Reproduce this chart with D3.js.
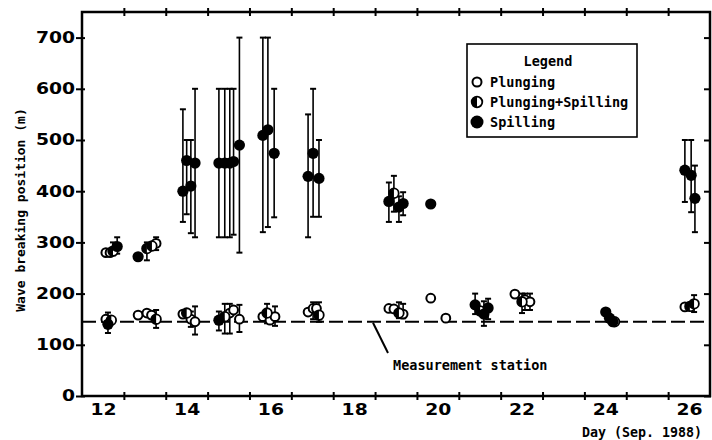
<!DOCTYPE html>
<html>
<head>
<meta charset="utf-8">
<script src="https://cdn.jsdelivr.net/npm/d3@7"></script>
<style>
  body { margin: 0; background: #fff; }
  .mono { font-family: "DejaVu Sans Mono", monospace; font-weight: bold; fill: #000; }
</style>
</head>
<body>
<div id="chart"></div>
<script>
// axis values
const yTicks = [0, 100, 200, 300, 400, 500, 600, 700];
const dayTicks = d3.range(13, 27);
const dayLabels = [12, 14, 16, 18, 20, 22, 24, 26];
const stationLevel = 145;

// points: [day, position (m), low, high]  (low/high = error bar, missing if none)
const plunging = [
    [12.57, 280], [12.67, 280], [13.77, 298, 285, 310],
    [12.57, 150],
    [13.34, 158], [13.55, 162], [13.66, 158],
    [14.41, 160], [14.60, 150, 135, 165], [14.70, 145, 120, 175],
    [15.53, 162, 122, 180], [15.62, 168], [15.76, 150, 125, 178],
    [16.32, 155], [16.49, 148], [16.61, 155, 137, 175],
    [17.40, 164], [17.52, 171, 150, 183], [17.60, 171],
    [19.33, 171], [19.45, 170], [19.67, 160, 152, 180],
    [20.33, 191], [20.69, 152],
    [22.34, 199], [22.58, 188, 168, 200], [22.70, 184, 168, 200],
    [26.40, 174]
];

const mixed = [
    [12.74, 283, 275, 300],
    [13.55, 288, 265, 300], [13.67, 293],
    [19.45, 396, 360, 430],
    [12.70, 148],
    [13.77, 150, 133, 168],
    [14.50, 162],
    [15.41, 155, 122, 180],
    [16.42, 162, 142, 180],
    [17.66, 158, 145, 183],
    [19.57, 162, 152, 183],
    [21.51, 166],
    [22.51, 184, 162, 200],
    [24.72, 145],
    [26.52, 175], [26.62, 180, 164, 197]
];

const spilling = [
    [12.84, 292, 278, 310],
    [13.34, 272],
    [14.41, 400, 340, 560], [14.50, 460, 355, 500], [14.60, 410, 318, 500], [14.70, 455, 310, 600],
    [15.27, 455, 310, 600], [15.41, 455, 310, 600], [15.53, 455, 310, 600], [15.62, 458, 315, 600], [15.76, 490, 280, 700],
    [16.32, 509, 320, 700], [16.44, 520, 330, 700], [16.59, 474, 349, 600],
    [17.40, 429, 310, 550], [17.52, 474, 350, 600], [17.66, 425, 350, 500],
    [19.33, 380, 340, 417], [19.57, 369, 340, 390], [19.67, 376, 353, 398],
    [20.33, 375],
    [12.62, 140, 123, 163],
    [15.27, 148, 128, 165],
    [21.39, 178, 160, 200], [21.60, 160, 137, 185], [21.70, 172, 150, 190],
    [24.51, 164], [24.60, 152], [24.68, 145],
    [26.40, 441, 379, 500], [26.55, 431, 359, 500], [26.64, 386, 320, 450]
];

const legendItems = [
    { label: 'Plunging', kind: 'open' },
    { label: 'Plunging+Spilling', kind: 'half' },
    { label: 'Spilling', kind: 'filled' }
];

const width = 712, height = 440;
const margin = { top: 12, right: 2, bottom: 44, left: 82 };

const svg = d3.select('#chart')
    .append('svg')
    .attr('width', width)
    .attr('height', height);

const x = d3.scaleLinear()
    .domain([12, 27])
    .range([margin.left, width - margin.right]);

const y = d3.scaleLinear()
    .domain([0, 750])
    .range([height - margin.bottom, margin.top]);

// frame
svg.append('rect')
    .attr('x', x(12))
    .attr('y', y(750))
    .attr('width', x(27) - x(12))
    .attr('height', y(0) - y(750))
    .attr('fill', 'none')
    .attr('stroke', '#000')
    .attr('stroke-width', 2.5);

const digitFont = g => g.selectAll('text')
    .style('font-family', '"DejaVu Sans", sans-serif')
    .style('font-weight', 'bold')
    .style('font-size', '15px')
    .attr('fill', '#000');

// left axis (ticks cross the frame)
svg.append('g')
    .attr('transform', `translate(${x(12)},0)`)
    .call(d3.axisLeft(y).tickValues(yTicks).tickSize(6).tickFormat(d3.format('d')))
    .call(g => g.select('.domain').remove())
    .call(g => g.selectAll('.tick line').attr('x1', 3).attr('x2', -6).attr('stroke-width', 2))
    .call(digitFont)
    .call(g => g.selectAll('text')
        .attr('x', -7 / 1.25)
        .attr('transform', 'scale(1.25,1)'));

// right axis ticks
svg.append('g')
    .attr('transform', `translate(${x(27)},0)`)
    .call(d3.axisRight(y).tickValues(yTicks).tickSize(0).tickFormat(''))
    .call(g => g.select('.domain').remove())
    .call(g => g.selectAll('.tick line').attr('x1', -6).attr('x2', 1).attr('stroke-width', 2));

// bottom axis ticks (day boundaries)
svg.append('g')
    .attr('transform', `translate(0,${y(0)})`)
    .call(d3.axisBottom(x).tickValues(dayTicks).tickSize(0).tickFormat(''))
    .call(g => g.select('.domain').remove())
    .call(g => g.selectAll('.tick line').attr('y1', -4).attr('y2', 4).attr('stroke-width', 2));

// bottom labels, centred on each day
svg.append('g')
    .attr('transform', `translate(0,${y(0)})`)
    .call(d3.axisBottom(x).tickValues(dayLabels.map(d => d + 0.5)).tickSize(0).tickFormat(d => Math.floor(d)))
    .call(g => g.select('.domain').remove())
    .call(digitFont)
    .call(g => g.selectAll('text')
        .attr('y', 19)
        .attr('dy', 0)
        .attr('transform', 'scale(1.25,1)'));

// top axis ticks
svg.append('g')
    .attr('transform', `translate(0,${y(750)})`)
    .call(d3.axisTop(x).tickValues(dayTicks).tickSize(0).tickFormat(''))
    .call(g => g.select('.domain').remove())
    .call(g => g.selectAll('.tick line').attr('y1', -4).attr('y2', 4).attr('stroke-width', 2));

// measurement station line
svg.append('line')
    .attr('x1', x(12))
    .attr('x2', x(27))
    .attr('y1', y(stationLevel))
    .attr('y2', y(stationLevel))
    .attr('stroke', '#000')
    .attr('stroke-width', 2)
    .attr('stroke-dasharray', '14,5');

svg.append('line')
    .attr('x1', 373)
    .attr('y1', y(stationLevel) + 1)
    .attr('x2', 388)
    .attr('y2', 353)
    .attr('stroke', '#000')
    .attr('stroke-width', 2);

svg.append('text')
    .attr('class', 'mono')
    .attr('x', 393)
    .attr('y', 370)
    .style('font-size', '13.5px')
    .text('Measurement station');

// axis titles
svg.append('text')
    .attr('class', 'mono')
    .attr('transform', 'translate(25,210) rotate(-90)')
    .attr('text-anchor', 'middle')
    .style('font-size', '13px')
    .text('Wave breaking position (m)');

svg.append('text')
    .attr('class', 'mono')
    .attr('x', 702)
    .attr('y', 437)
    .attr('text-anchor', 'end')
    .style('font-size', '13.3px')
    .text('Day (Sep. 1988)');

// error bars
const allPts = [...plunging, ...mixed, ...spilling].filter(d => d[2] != null);
const bars = svg.append('g').attr('stroke', '#000').attr('stroke-width', 1.6);

bars.selectAll('.err')
    .data(allPts)
    .join('line')
    .attr('class', 'err')
    .attr('x1', d => x(d[0]))
    .attr('x2', d => x(d[0]))
    .attr('y1', d => y(d[2]))
    .attr('y2', d => y(d[3]));

bars.selectAll('.cap-hi')
    .data(allPts)
    .join('line')
    .attr('class', 'cap-hi')
    .attr('x1', d => x(d[0]) - 3)
    .attr('x2', d => x(d[0]) + 3)
    .attr('y1', d => y(d[3]))
    .attr('y2', d => y(d[3]))
    .attr('stroke-width', 2);

bars.selectAll('.cap-lo')
    .data(allPts)
    .join('line')
    .attr('class', 'cap-lo')
    .attr('x1', d => x(d[0]) - 3)
    .attr('x2', d => x(d[0]) + 3)
    .attr('y1', d => y(d[2]))
    .attr('y2', d => y(d[2]))
    .attr('stroke-width', 2);

// markers
const drawMarker = (sel, kind, r) => {
    if (kind === 'filled') {
        sel.append('circle').attr('r', r).attr('fill', '#000');
    } else if (kind === 'open') {
        sel.append('circle').attr('r', r).attr('fill', '#fff')
            .attr('stroke', '#000').attr('stroke-width', 2);
    } else {
        sel.append('circle').attr('r', r).attr('fill', '#fff')
            .attr('stroke', '#000').attr('stroke-width', 1.8);
        sel.append('path')
            .attr('d', `M0,${-r} A${r},${r} 0 0 0 0,${r} Z`)
            .attr('fill', '#000');
    }
};

[[plunging, 'open', 4.4], [mixed, 'half', 4.8], [spilling, 'filled', 5.6]].forEach(([pts, kind, r]) => {
    svg.append('g')
        .selectAll('g')
        .data(pts)
        .join('g')
        .attr('transform', d => `translate(${x(d[0])},${y(d[1])})`)
        .each(function () { drawMarker(d3.select(this), kind, r); });
});

// legend
const legend = svg.append('g').attr('transform', 'translate(467,44)');

legend.append('rect')
    .attr('width', 170)
    .attr('height', 93)
    .attr('fill', '#fff')
    .attr('stroke', '#000')
    .attr('stroke-width', 1.6);

legend.append('text')
    .attr('class', 'mono')
    .attr('x', 81)
    .attr('y', 22)
    .attr('text-anchor', 'middle')
    .style('font-size', '13.5px')
    .text('Legend');

const legendRows = legend.selectAll('.row')
    .data(legendItems)
    .join('g')
    .attr('class', 'row')
    .attr('transform', (d, i) => `translate(0,${38 + i * 20})`);

legendRows.each(function (d) {
    const g = d3.select(this).append('g').attr('transform', 'translate(10,0)');
    drawMarker(g, d.kind, d.kind === 'filled' ? 6.5 : d.kind === 'half' ? 5.3 : 4.5);
});

legendRows.append('text')
    .attr('class', 'mono')
    .attr('x', 23)
    .attr('y', 5)
    .style('font-size', '13.5px')
    .text(d => d.label);
</script>
</body>
</html>
